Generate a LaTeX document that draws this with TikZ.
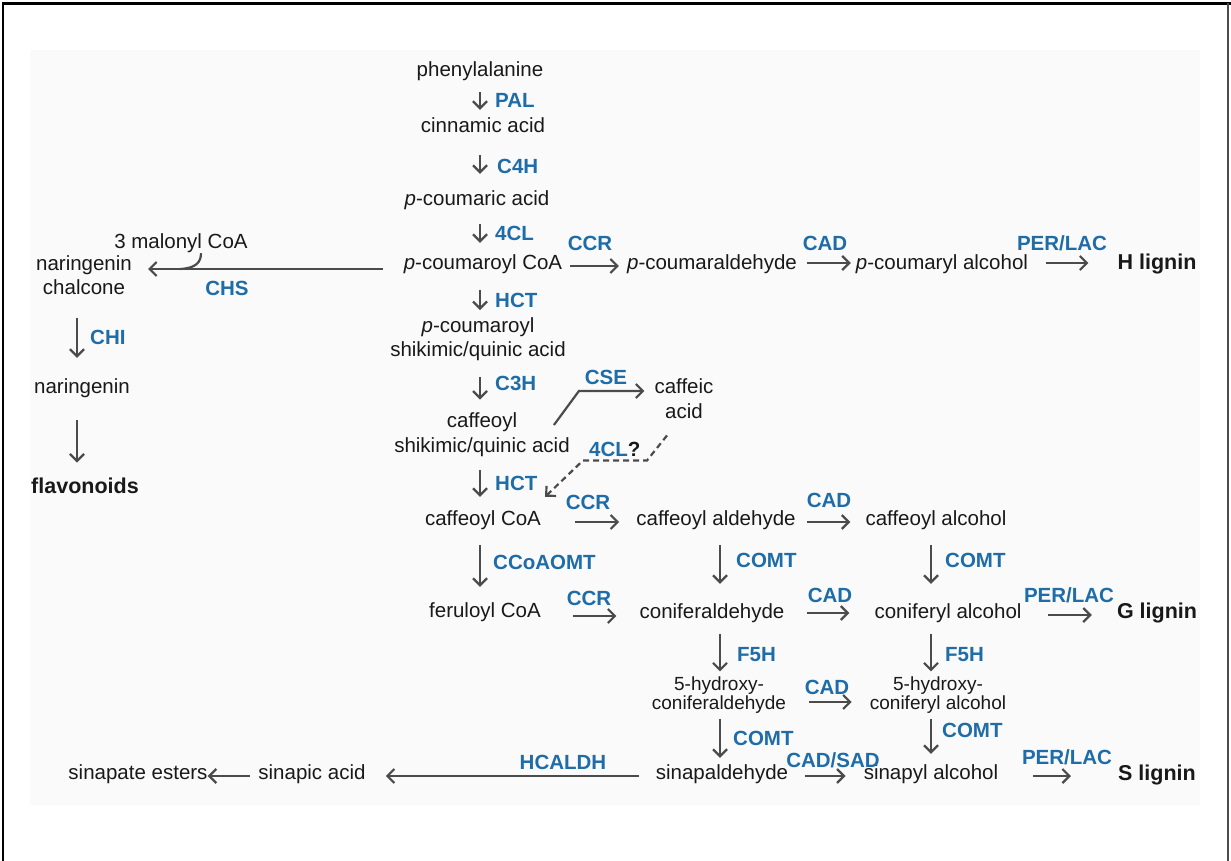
\documentclass[tikz,border=0pt]{standalone}
\usepackage{fontspec}
\setmainfont{Liberation Sans}
\usetikzlibrary{arrows.meta}
\definecolor{txt}{RGB}{25,25,25}
\definecolor{enz}{RGB}{30,108,168}
\definecolor{arrc}{RGB}{75,75,75}
\newcommand\mystrut{\rule[-5pt]{0pt}{20pt}}
\newcommand\smstrut{\rule[-4.5pt]{0pt}{18pt}}
\begin{document}
\begin{tikzpicture}[x=1pt,y=-1pt,
  t/.style={inner sep=0pt, text height=15pt, text depth=5pt, font=\fontsize{20.5}{24.5}\selectfont, text=txt},
  tt/.style={inner sep=0pt, align=center, font=\fontsize{20.5}{24.5}\selectfont, text=txt},
  ts/.style={inner sep=0pt, align=center, font=\fontsize{19}{19.5}\selectfont, text=txt},
  tb/.style={inner sep=0pt, text height=15.5pt, text depth=5pt, font=\fontsize{21.5}{26}\selectfont\bfseries, text=txt},
  lab/.style={inner sep=0pt, text height=14.7pt, text depth=0pt, font=\fontsize{20.5}{24.5}\selectfont\bfseries, text=enz},
  arr/.style={draw=arrc, line width=2.2pt, -{Straight Barb[length=7pt,width=14pt]}},
  dsh/.style={arr, dash pattern=on 6pt off 4pt},
  conn/.style={draw=arrc, line width=2.2pt}]
\useasboundingbox (0,0) rectangle (1231,861);
\fill[black!2] (30,50) rectangle (1200,805);
\draw[line width=2.5pt] (3,861) -- (3,3.5) -- (1231,3.5);
\draw[line width=1.5pt, black!70] (1228,3.5) -- (1228,861);

% column coordinates
\coordinate (cx) at (480,0);
\coordinate (lx) at (77,0);
\coordinate (mx) at (720,0);
\coordinate (rx) at (931,0);
\coordinate (mj) at (180,269);

% compounds
\node[t] (phe) at (480,72) {phenylalanine};
\node[t] (cin) at (483,128) {cinnamic acid};
\node[t] (pca) at (477,200) {\textit{p}-coumaric acid};
\node[t] (pcoa) at (483,264) {\textit{p}-coumaroyl CoA};
\node[t] (pcald) at (712,264) {\textit{p}-coumaraldehyde};
\node[t] (pcalc) at (942,264) {\textit{p}-coumaryl alcohol};
\node[tb] (hlig) at (1157,264) {H lignin};
\node[t] (mal) at (181,243) {3 malonyl CoA};
\node[tt] (narch) at (84,277.5) {\mystrut naringenin\\\mystrut chalcone};
\node[t] (nar) at (82,388) {naringenin};
\node[tb] (flav) at (85,488) {flavonoids};
\node[tt] (pcsq) at (478,339.5) {\mystrut\textit{p}-coumaroyl\\\mystrut shikimic/quinic acid};
\node[tt] (csq) at (482,435) {\mystrut caffeoyl\\\mystrut shikimic/quinic acid};
\node[tt] (caff) at (684,401) {\mystrut caffeic\\\mystrut acid};
\node[t] (ccoa) at (483,520) {caffeoyl CoA};
\node[t] (cald) at (716,520) {caffeoyl aldehyde};
\node[t] (calc) at (936,520) {caffeoyl alcohol};
\node[t] (fcoa) at (485,612) {feruloyl CoA};
\node[t] (conald) at (712,613) {coniferaldehyde};
\node[t] (conalc) at (948,613) {coniferyl alcohol};
\node[tb] (glig) at (1157,613) {G lignin};
\node[ts] (hcald) at (719,695.5) {\smstrut 5-hydroxy-\\\smstrut coniferaldehyde};
\node[ts] (hcalc) at (938,695.5) {\smstrut 5-hydroxy-\\\smstrut coniferyl alcohol};
\node[t] (sinald) at (722,774) {sinapaldehyde};
\node[t] (sinalc) at (931,774) {sinapyl alcohol};
\node[tb] (slig) at (1157,775) {S lignin};
\node[t] (sinac) at (312,774) {sinapic acid};
\node[t] (sinest) at (138,774) {sinapate esters};

% vertical arrows
\draw[arr, shorten <=10pt, shorten >=8pt] (phe.south -| cx) -- (cin.north -| cx);
\draw[arr, shorten <=17pt, shorten >=16pt] (cin.south -| cx) -- (pca.north -| cx);
\draw[arr, shorten <=14pt, shorten >=11pt] (pca.south -| cx) -- (pcoa.north -| cx);
\draw[arr, shorten <=16pt, shorten >=7pt] (pcoa.south -| cx) -- (pcsq.north -| cx);
\draw[arr, shorten <=15pt, shorten >=13pt] (pcsq.south -| cx) -- (csq.north -| cx);
\draw[arr, shorten <=13pt, shorten >=13pt] (csq.south -| cx) -- (ccoa.north -| cx);
\draw[arr, shorten <=15pt, shorten >=15pt] (ccoa.south -| cx) -- (fcoa.north -| cx);
\draw[arr, shorten <=15pt, shorten >=19pt] (cald.south -| mx) -- (conald.north -| mx);
\draw[arr, shorten <=15pt, shorten >=19pt] (calc.south -| rx) -- (conalc.north -| rx);
\draw[arr, shorten <=11pt, shorten >=5pt] (conald.south -| mx) -- (hcald.north -| mx);
\draw[arr, shorten <=11pt, shorten >=5pt] (conalc.south -| rx) -- (hcalc.north -| rx);
\draw[arr, shorten <=4pt, shorten >=6pt] (hcald.south -| mx) -- (sinald.north -| mx);
\draw[arr, shorten <=4pt, shorten >=10pt] (hcalc.south -| rx) -- (sinalc.north -| rx);
\draw[arr, shorten <=18pt, shorten >=20pt] (narch.south -| lx) -- (nar.north -| lx);
\draw[arr, shorten <=22pt, shorten >=15pt] (nar.south -| lx) -- (flav.north -| lx);

% horizontal arrows
\draw[arr, shorten <=8pt, shorten >=8pt] ([yshift=-2pt]pcoa.east) -- ([yshift=-2pt]pcoa.east -| pcald.west);
\draw[arr, shorten <=10pt, shorten >=5pt] ([yshift=1pt]pcald.east) -- ([yshift=1pt]pcald.east -| pcalc.west);
\draw[arr, shorten <=18pt, shorten >=29pt] ([yshift=1pt]pcalc.east) -- ([yshift=1pt]pcalc.east -| hlig.west);
\draw[arr, shorten <=21pt, shorten >=16pt] ([yshift=-5pt]pcoa.west) -- ([yshift=-5pt]pcoa.west -| narch.east);
\draw[conn] ([xshift=20pt]mal.south) .. controls ([xshift=20pt,yshift=-9pt]mal.south) and ([xshift=15pt,yshift=-15pt]mal.south) .. (mj);
\draw[arr, shorten <=34pt, shorten >=17pt] ([yshift=-2pt]ccoa.east) -- ([yshift=-2pt]ccoa.east -| cald.west);
\draw[arr, shorten <=11pt, shorten >=15pt] ([yshift=-2pt]cald.east) -- ([yshift=-2pt]cald.east -| calc.west);
\draw[arr, shorten <=32pt, shorten >=23pt] ([yshift=-4pt]fcoa.east) -- ([yshift=-4pt]fcoa.east -| conald.west);
\draw[arr, shorten <=22pt, shorten >=25pt] (conald.east) -- (conald.east -| conalc.west);
\draw[arr, shorten <=26pt, shorten >=25pt] ([yshift=-2pt]conalc.east) -- ([yshift=-2pt]conalc.east -| glig.west);
\draw[arr, shorten <=23pt, shorten >=18pt] ([yshift=-6.5pt]hcald.east) -- ([yshift=-6.5pt]hcald.east -| hcalc.west);
\draw[arr, shorten <=17pt, shorten >=18pt] ([yshift=-2pt]sinald.east) -- ([yshift=-2pt]sinald.east -| sinalc.west);
\draw[arr, shorten <=35pt, shorten >=47pt] ([yshift=-2pt]sinalc.east) -- ([yshift=-2pt]sinalc.east -| slig.west);
\draw[arr, shorten <=17pt, shorten >=20pt] ([yshift=-2pt]sinald.west) -- ([yshift=-2pt]sinald.west -| sinac.east);
\draw[arr, shorten <=8pt, shorten >=0pt] ([yshift=-2pt]sinac.west) -- ([yshift=-2pt]sinac.west -| sinest.east);

% CSE and 4CL? branches
\draw[arr] ([shift={(-16pt,10pt)}]csq.east) -- ++(25,-34) -- ([shift={(-10pt,10pt)}]caff.west);
\draw[dsh] ([shift={(-17pt,-12pt)}]caff.south) -- ++(-20,25) -- ++(-64,0) -- ([shift={(4pt,13pt)}]ccoa.north east);

% enzyme labels
\node[lab, anchor=west] (lpal) at (495,100) {PAL};
\node[lab, anchor=west] (lc4h) at (497,166) {C4H};
\node[lab, anchor=west] (l4cl) at (495,233) {4CL};
\node[lab, anchor=west] (lhct) at (495,300) {HCT};
\node[lab, anchor=west] (lc3h) at (495,383) {C3H};
\node[lab, anchor=west] (lhct2) at (495,483) {HCT};
\node[lab, anchor=west] (lccoaomt) at (493,562) {CCoAOMT};
\node[lab, anchor=west] (lcomt1) at (736,560) {COMT};
\node[lab, anchor=west] (lcomt2) at (945,560) {COMT};
\node[lab, anchor=west] (lf5h1) at (737,654) {F5H};
\node[lab, anchor=west] (lf5h2) at (945,654) {F5H};
\node[lab, anchor=west] (lcomt3) at (733,738) {COMT};
\node[lab, anchor=west] (lcomt4) at (942,730) {COMT};
\node[lab, anchor=west] (lchi) at (90,337) {CHI};
\node[lab] (lccr1) at (590,243) {CCR};
\node[lab] (lcad1) at (825,243) {CAD};
\node[lab] (lper1) at (1062,243) {PER/LAC};
\node[lab] (lchs) at (227,288) {CHS};
\node[lab] (lcse) at (606,377) {CSE};
\node[lab, anchor=west] (l4clq) at (589,449) {4CL\textcolor{txt}{?}};
\node[lab] (lccr2) at (588,502) {CCR};
\node[lab] (lcad2) at (829,500) {CAD};
\node[lab] (lccr3) at (589,598) {CCR};
\node[lab] (lcad3) at (830,595) {CAD};
\node[lab] (lper2) at (1069,595) {PER/LAC};
\node[lab] (lcad4) at (827,687) {CAD};
\node[lab] (lcadsad) at (833,760) {CAD/SAD};
\node[lab] (lper3) at (1067,757) {PER/LAC};
\node[lab] (lhcaldh) at (563,762) {HCALDH};
\end{tikzpicture}
\end{document}
